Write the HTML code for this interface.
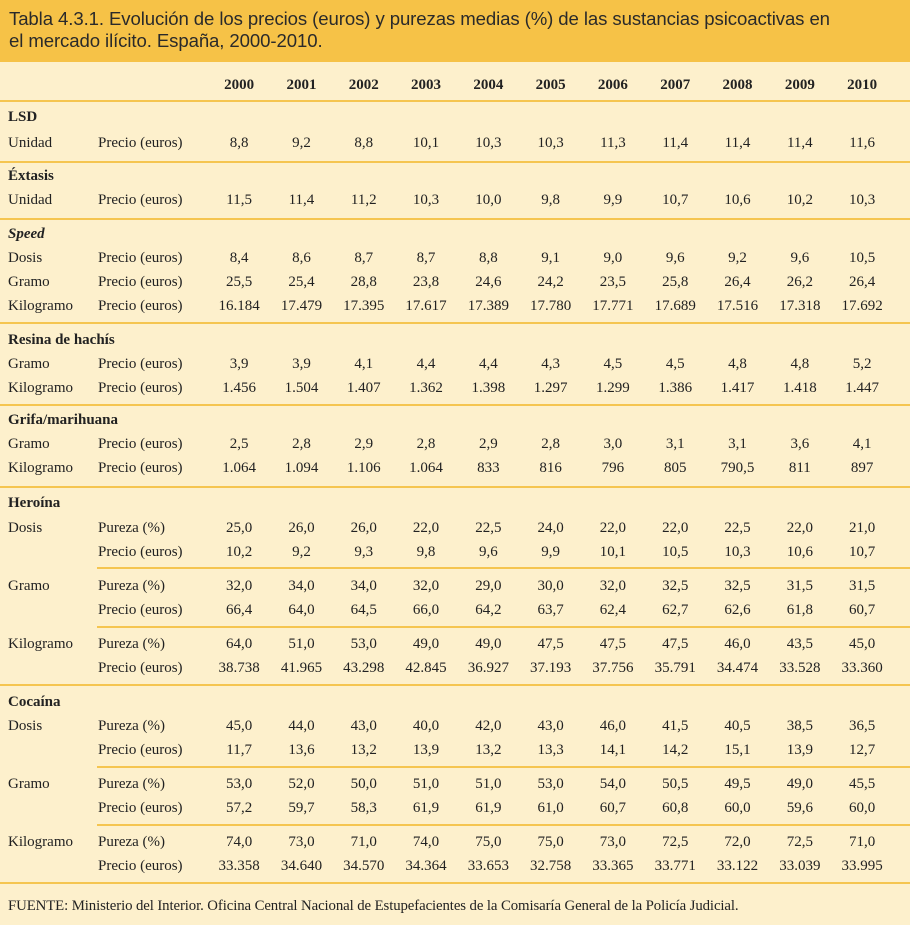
<!DOCTYPE html>
<html><head><meta charset="utf-8"><style>
body{margin:0;width:910px;height:925px;background:#fdf0cc;position:relative;overflow:hidden;font-family:"Liberation Serif",serif;font-size:15px;color:#222}
.t{position:absolute;left:0;top:0;width:910px;height:62px;background:#f6c247;font-family:"Liberation Sans",sans-serif;font-size:18.6px;line-height:22px;color:#2a2a2a;padding:8px 0 0 9px;box-sizing:border-box;letter-spacing:-0.1px}
.r{position:absolute;left:8px;height:18px;line-height:18px;display:grid;grid-template-columns:90px 110px repeat(11,62.3px);white-space:nowrap}
.r span:nth-child(n+3){text-align:center}
.b{font-weight:bold}
.l{position:absolute;height:2px;background:#f5c550;right:0}
.f{position:absolute;left:8px;top:898px;font-size:14.8px;letter-spacing:-0.1px}
</style></head><body>
<div class="t">Tabla 4.3.1. Evolución de los precios (euros) y purezas medias (%) de las sustancias psicoactivas en<br>el mercado ilícito. España, 2000-2010.</div>
<div class="r b" style="top:76px"><span></span><span></span><span>2000</span><span>2001</span><span>2002</span><span>2003</span><span>2004</span><span>2005</span><span>2006</span><span>2007</span><span>2008</span><span>2009</span><span>2010</span></div>
<div class="l" style="left:0;top:100px"></div>
<div class="r b" style="top:108px"><span>LSD</span></div>
<div class="r" style="top:134px"><span>Unidad</span><span>Precio (euros)</span><span>8,8</span><span>9,2</span><span>8,8</span><span>10,1</span><span>10,3</span><span>10,3</span><span>11,3</span><span>11,4</span><span>11,4</span><span>11,4</span><span>11,6</span></div>
<div class="l" style="left:0;top:161px"></div>
<div class="r b" style="top:167px"><span>Éxtasis</span></div>
<div class="r" style="top:191px"><span>Unidad</span><span>Precio (euros)</span><span>11,5</span><span>11,4</span><span>11,2</span><span>10,3</span><span>10,0</span><span>9,8</span><span>9,9</span><span>10,7</span><span>10,6</span><span>10,2</span><span>10,3</span></div>
<div class="l" style="left:0;top:218px"></div>
<div class="r b" style="top:225px"><span><i>Speed</i></span></div>
<div class="r" style="top:249px"><span>Dosis</span><span>Precio (euros)</span><span>8,4</span><span>8,6</span><span>8,7</span><span>8,7</span><span>8,8</span><span>9,1</span><span>9,0</span><span>9,6</span><span>9,2</span><span>9,6</span><span>10,5</span></div>
<div class="r" style="top:273px"><span>Gramo</span><span>Precio (euros)</span><span>25,5</span><span>25,4</span><span>28,8</span><span>23,8</span><span>24,6</span><span>24,2</span><span>23,5</span><span>25,8</span><span>26,4</span><span>26,2</span><span>26,4</span></div>
<div class="r" style="top:297px"><span>Kilogramo</span><span>Precio (euros)</span><span>16.184</span><span>17.479</span><span>17.395</span><span>17.617</span><span>17.389</span><span>17.780</span><span>17.771</span><span>17.689</span><span>17.516</span><span>17.318</span><span>17.692</span></div>
<div class="l" style="left:0;top:322px"></div>
<div class="r b" style="top:331px"><span>Resina de hachís</span></div>
<div class="r" style="top:355px"><span>Gramo</span><span>Precio (euros)</span><span>3,9</span><span>3,9</span><span>4,1</span><span>4,4</span><span>4,4</span><span>4,3</span><span>4,5</span><span>4,5</span><span>4,8</span><span>4,8</span><span>5,2</span></div>
<div class="r" style="top:379px"><span>Kilogramo</span><span>Precio (euros)</span><span>1.456</span><span>1.504</span><span>1.407</span><span>1.362</span><span>1.398</span><span>1.297</span><span>1.299</span><span>1.386</span><span>1.417</span><span>1.418</span><span>1.447</span></div>
<div class="l" style="left:0;top:404px"></div>
<div class="r b" style="top:411px"><span>Grifa/marihuana</span></div>
<div class="r" style="top:435px"><span>Gramo</span><span>Precio (euros)</span><span>2,5</span><span>2,8</span><span>2,9</span><span>2,8</span><span>2,9</span><span>2,8</span><span>3,0</span><span>3,1</span><span>3,1</span><span>3,6</span><span>4,1</span></div>
<div class="r" style="top:459px"><span>Kilogramo</span><span>Precio (euros)</span><span>1.064</span><span>1.094</span><span>1.106</span><span>1.064</span><span>833</span><span>816</span><span>796</span><span>805</span><span>790,5</span><span>811</span><span>897</span></div>
<div class="l" style="left:0;top:486px"></div>
<div class="r b" style="top:494px"><span>Heroína</span></div>
<div class="r" style="top:519px"><span>Dosis</span><span>Pureza (%)</span><span>25,0</span><span>26,0</span><span>26,0</span><span>22,0</span><span>22,5</span><span>24,0</span><span>22,0</span><span>22,0</span><span>22,5</span><span>22,0</span><span>21,0</span></div>
<div class="r" style="top:543px"><span></span><span>Precio (euros)</span><span>10,2</span><span>9,2</span><span>9,3</span><span>9,8</span><span>9,6</span><span>9,9</span><span>10,1</span><span>10,5</span><span>10,3</span><span>10,6</span><span>10,7</span></div>
<div class="l" style="left:97px;top:567px"></div>
<div class="r" style="top:577px"><span>Gramo</span><span>Pureza (%)</span><span>32,0</span><span>34,0</span><span>34,0</span><span>32,0</span><span>29,0</span><span>30,0</span><span>32,0</span><span>32,5</span><span>32,5</span><span>31,5</span><span>31,5</span></div>
<div class="r" style="top:601px"><span></span><span>Precio (euros)</span><span>66,4</span><span>64,0</span><span>64,5</span><span>66,0</span><span>64,2</span><span>63,7</span><span>62,4</span><span>62,7</span><span>62,6</span><span>61,8</span><span>60,7</span></div>
<div class="l" style="left:97px;top:626px"></div>
<div class="r" style="top:635px"><span>Kilogramo</span><span>Pureza (%)</span><span>64,0</span><span>51,0</span><span>53,0</span><span>49,0</span><span>49,0</span><span>47,5</span><span>47,5</span><span>47,5</span><span>46,0</span><span>43,5</span><span>45,0</span></div>
<div class="r" style="top:659px"><span></span><span>Precio (euros)</span><span>38.738</span><span>41.965</span><span>43.298</span><span>42.845</span><span>36.927</span><span>37.193</span><span>37.756</span><span>35.791</span><span>34.474</span><span>33.528</span><span>33.360</span></div>
<div class="l" style="left:0;top:684px"></div>
<div class="r b" style="top:693px"><span>Cocaína</span></div>
<div class="r" style="top:717px"><span>Dosis</span><span>Pureza (%)</span><span>45,0</span><span>44,0</span><span>43,0</span><span>40,0</span><span>42,0</span><span>43,0</span><span>46,0</span><span>41,5</span><span>40,5</span><span>38,5</span><span>36,5</span></div>
<div class="r" style="top:741px"><span></span><span>Precio (euros)</span><span>11,7</span><span>13,6</span><span>13,2</span><span>13,9</span><span>13,2</span><span>13,3</span><span>14,1</span><span>14,2</span><span>15,1</span><span>13,9</span><span>12,7</span></div>
<div class="l" style="left:97px;top:766px"></div>
<div class="r" style="top:775px"><span>Gramo</span><span>Pureza (%)</span><span>53,0</span><span>52,0</span><span>50,0</span><span>51,0</span><span>51,0</span><span>53,0</span><span>54,0</span><span>50,5</span><span>49,5</span><span>49,0</span><span>45,5</span></div>
<div class="r" style="top:799px"><span></span><span>Precio (euros)</span><span>57,2</span><span>59,7</span><span>58,3</span><span>61,9</span><span>61,9</span><span>61,0</span><span>60,7</span><span>60,8</span><span>60,0</span><span>59,6</span><span>60,0</span></div>
<div class="l" style="left:97px;top:824px"></div>
<div class="r" style="top:833px"><span>Kilogramo</span><span>Pureza (%)</span><span>74,0</span><span>73,0</span><span>71,0</span><span>74,0</span><span>75,0</span><span>75,0</span><span>73,0</span><span>72,5</span><span>72,0</span><span>72,5</span><span>71,0</span></div>
<div class="r" style="top:857px"><span></span><span>Precio (euros)</span><span>33.358</span><span>34.640</span><span>34.570</span><span>34.364</span><span>33.653</span><span>32.758</span><span>33.365</span><span>33.771</span><span>33.122</span><span>33.039</span><span>33.995</span></div>
<div class="l" style="left:0;top:882px"></div>
<div class="f">FUENTE: Ministerio del Interior. Oficina Central Nacional de Estupefacientes de la Comisaría General de la Policía Judicial.</div>
</body></html>
